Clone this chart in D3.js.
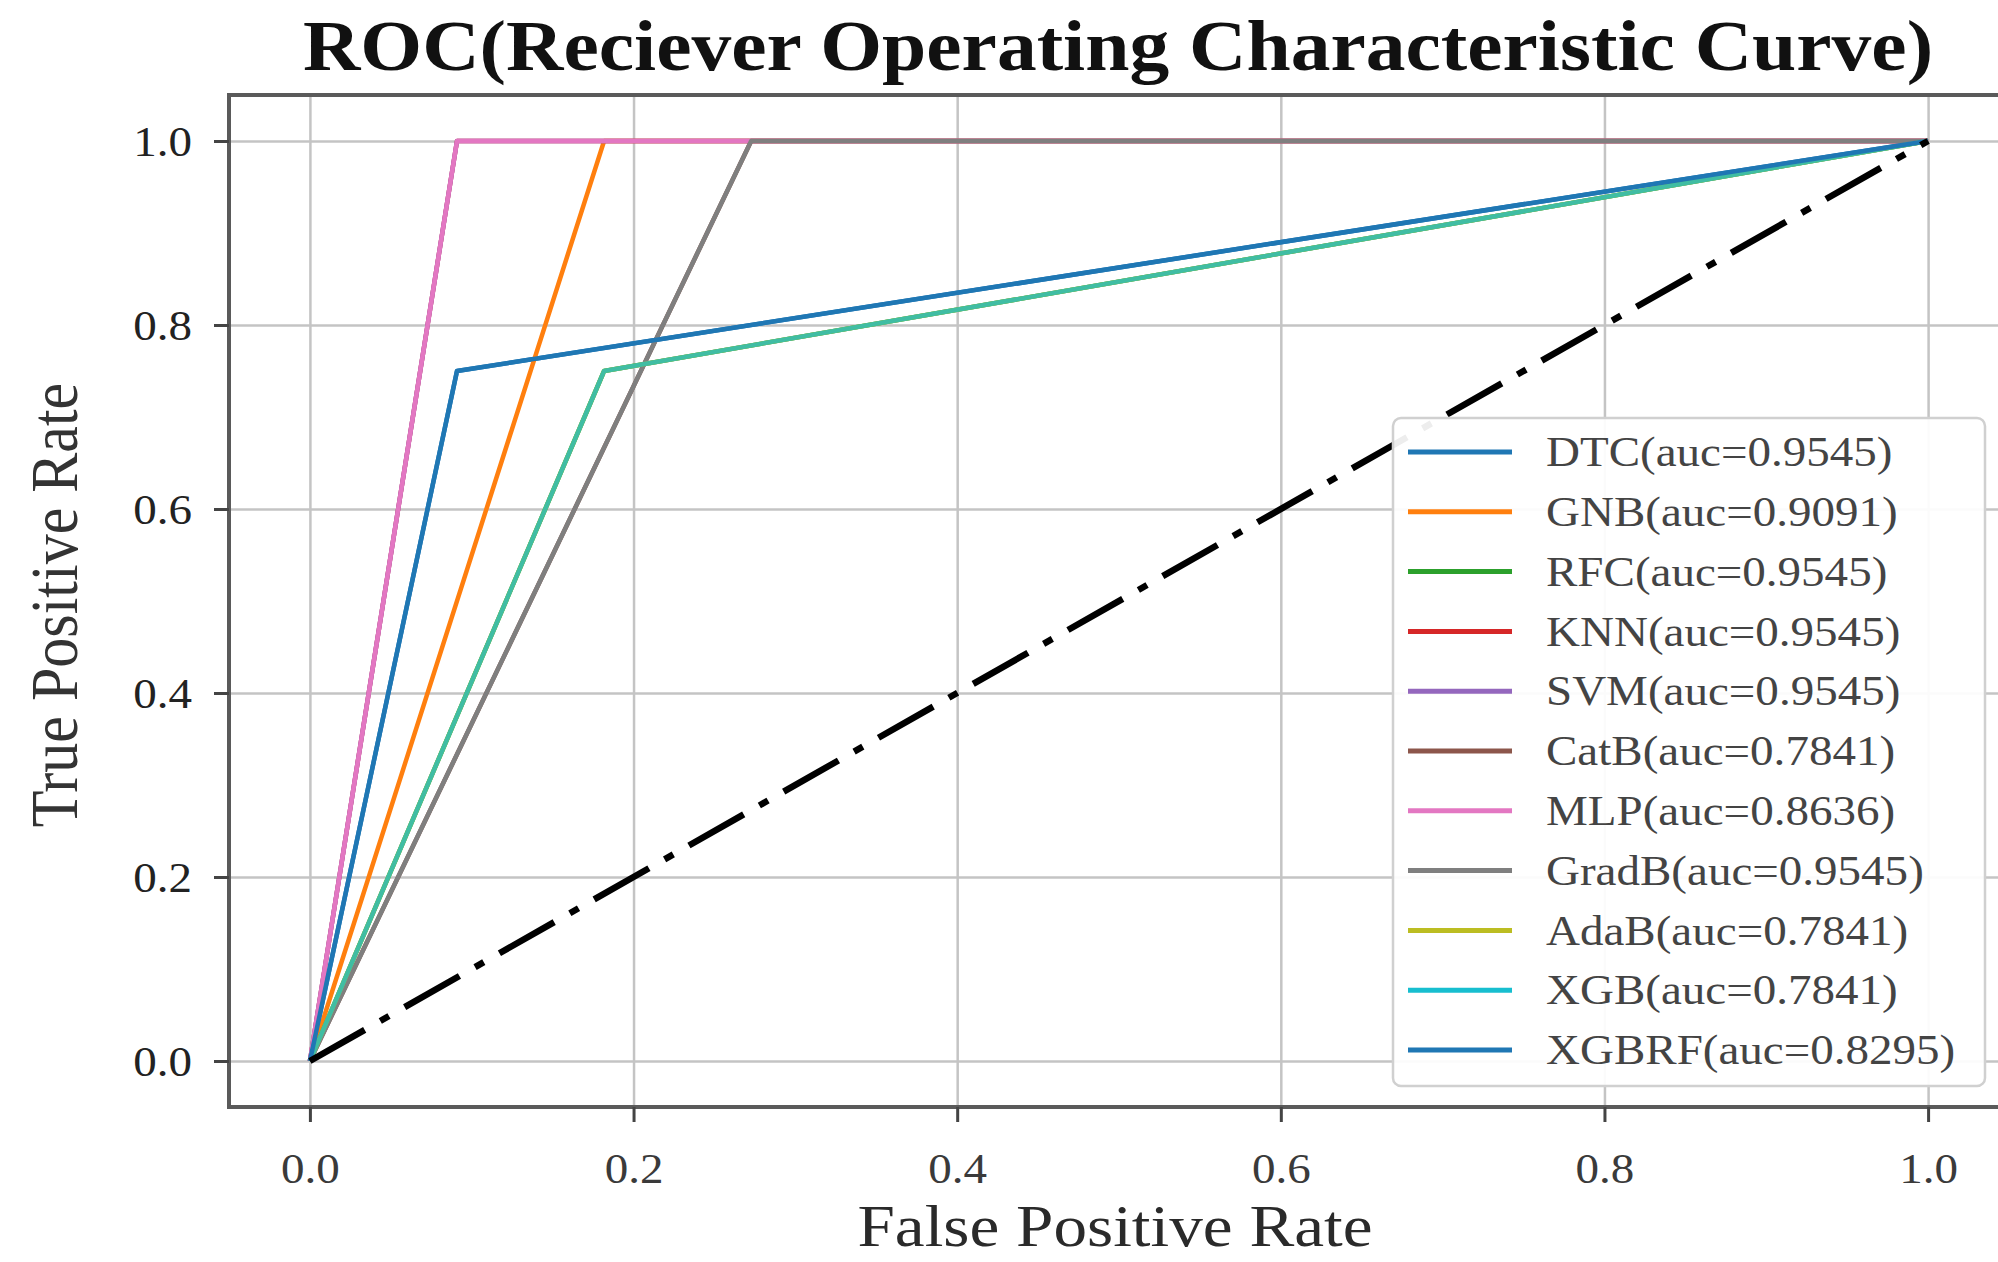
<!DOCTYPE html>
<html>
<head>
<meta charset="utf-8">
<script src="https://cdn.jsdelivr.net/npm/d3@7"></script>
<style>
  body { margin: 0; background: #fff; }
  text { font-family: "Liberation Serif", "Times New Roman", serif; }
</style>
</head>
<body>
<script>
// models, legend auc values and the roc points
const models = ['DTC', 'GNB', 'RFC', 'KNN', 'SVM', 'CatB', 'MLP', 'GradB', 'AdaB', 'XGB', 'XGBRF'];
const aucs = ['0.9545', '0.9091', '0.9545', '0.9545', '0.9545', '0.7841', '0.8636', '0.9545', '0.7841', '0.7841', '0.8295'];
const fprs = [
  [0, 0.0909, 1],
  [0, 0.1818, 1],
  [0, 0.1818, 1],
  [0, 0.0909, 1],
  [0, 0.0909, 1],
  [0, 0.2727, 1],
  [0, 0.0909, 1],
  [0, 0.2727, 1],
  [0, 0.1818, 1],
  [0, 0.1818, 1],
  [0, 0.0909, 1],
];
const tprs = [
  [0, 0.75, 1],
  [0, 1, 1],
  [0, 0.75, 1],
  [0, 1, 1],
  [0, 1, 1],
  [0, 1, 1],
  [0, 1, 1],
  [0, 1, 1],
  [0, 0.75, 1],
  [0, 0.75, 1],
  [0, 0.75, 1],
];
const chance = [0, 1];
const ticks = [0, 0.2, 0.4, 0.6, 0.8, 1.0];

const colors = ['#1f77b4', '#ff7f0e', '#2ca02c', '#d62728', '#9467bd', '#8c564b',
  '#e377c2', '#7f7f7f', '#bcbd22', '#17becf', '#1f77b4'];

// the source picture is stretched sideways, so text gets the same stretch
const sx = 1.12;

const W = 1998;
const H = 1262;
const margin = { top: 95, left: 229 };
const width = 1780;
const height = 1012;

const svg = d3.select('body')
  .append('svg')
  .attr('width', W)
  .attr('height', H);

svg.append('rect').attr('width', W).attr('height', H).attr('fill', '#fff');

const g = svg.append('g')
  .attr('transform', `translate(${margin.left},${margin.top})`);

const x = d3.scaleLinear().domain([-0.05, 1.05]).range([0, width]);
const y = d3.scaleLinear().domain([-0.05, 1.05]).range([height, 0]);

// grid
g.append('g')
  .attr('class', 'grid')
  .attr('transform', `translate(0,${height})`)
  .call(d3.axisBottom(x).tickValues(ticks).tickSize(-height).tickFormat(''));
g.append('g')
  .attr('class', 'grid')
  .call(d3.axisLeft(y).tickValues(ticks).tickSize(-width).tickFormat(''));
g.selectAll('.grid .domain').remove();
g.selectAll('.grid line').attr('stroke', '#c4c4c4').attr('stroke-width', 2.5);

// roc curves
const line = d3.line()
  .x(d => x(d[0]))
  .y(d => y(d[1]));

models.forEach((m, i) => {
  const pts = fprs[i].map((f, j) => [f, tprs[i][j]]);
  g.append('path')
    .datum(pts)
    .attr('d', line)
    .attr('fill', 'none')
    .attr('stroke', colors[i])
    .attr('stroke-opacity', m === 'XGB' ? 0.75 : 1) // lets the lines below show through, as in the picture
    .attr('stroke-width', 4.5)
    .attr('stroke-linejoin', 'round');
});

// chance diagonal
g.append('path')
  .datum(chance.map(v => [v, v]))
  .attr('d', line)
  .attr('fill', 'none')
  .attr('stroke', '#000')
  .attr('stroke-width', 6.5)
  .attr('stroke-dasharray', '63,18,10,18');

// frame
g.append('rect')
  .attr('width', width)
  .attr('height', height)
  .attr('fill', 'none')
  .attr('stroke', '#5a5a5a')
  .attr('stroke-width', 4);

// x axis
const xAxis = g.append('g')
  .attr('transform', `translate(0,${height})`)
  .call(d3.axisBottom(x).tickValues(ticks).tickFormat(d3.format('.1f')).tickSize(15).tickPadding(0));
xAxis.select('.domain').remove();
xAxis.selectAll('line').attr('stroke', '#444').attr('stroke-width', 3);
xAxis.selectAll('text')
  .attr('y', 76)
  .attr('dy', null)
  .attr('transform', `scale(${sx},1)`)
  .attr('fill', '#3a3a3a')
  .style('font-size', '42px');

// y axis
const yAxis = g.append('g')
  .call(d3.axisLeft(y).tickValues(ticks).tickFormat(d3.format('.1f')).tickSize(15));
yAxis.select('.domain').remove();
yAxis.selectAll('line').attr('stroke', '#444').attr('stroke-width', 3);
yAxis.selectAll('text')
  .attr('x', -37 / sx)
  .attr('dy', '0.34em')
  .attr('transform', `scale(${sx},1)`)
  .attr('fill', '#222')
  .style('font-size', '42px');

// title and axis labels
svg.append('text')
  .attr('transform', `translate(1118,70) scale(${sx},1)`)
  .attr('text-anchor', 'middle')
  .style('font-size', '71px')
  .style('font-weight', 'bold')
  .attr('fill', '#111')
  .text('ROC(Reciever Operating Characteristic Curve)');

svg.append('text')
  .attr('transform', `translate(1115,1246) scale(${sx},1)`)
  .attr('text-anchor', 'middle')
  .style('font-size', '60px')
  .attr('fill', '#2a2a2a')
  .text('False Positive Rate');

svg.append('text')
  .attr('transform', `translate(77,605) scale(${sx},1) rotate(-90)`)
  .attr('text-anchor', 'middle')
  .style('font-size', '60px')
  .attr('fill', '#333')
  .text('True Positive Rate');

// legend
const legend = svg.append('g')
  .attr('transform', 'translate(1393,418)');

legend.append('rect')
  .attr('width', 592)
  .attr('height', 668)
  .attr('rx', 8)
  .attr('fill', '#fff')
  .attr('fill-opacity', 0.93)
  .attr('stroke', '#d0d0d0')
  .attr('stroke-width', 2.5);

const item = legend.selectAll('g.item')
  .data(models)
  .enter()
  .append('g')
  .attr('class', 'item')
  .attr('transform', (d, i) => `translate(0,${34 + i * 59.8})`);

item.append('line')
  .attr('x1', 15)
  .attr('x2', 119)
  .attr('stroke', (d, i) => colors[i])
  .attr('stroke-width', 5);

item.append('text')
  .attr('transform', `translate(153,0) scale(${sx},1)`)
  .attr('dy', '0.34em')
  .style('font-size', '42px')
  .attr('fill', '#444')
  .text((d, i) => `${d}(auc=${aucs[i]})`);
</script>
</body>
</html>
